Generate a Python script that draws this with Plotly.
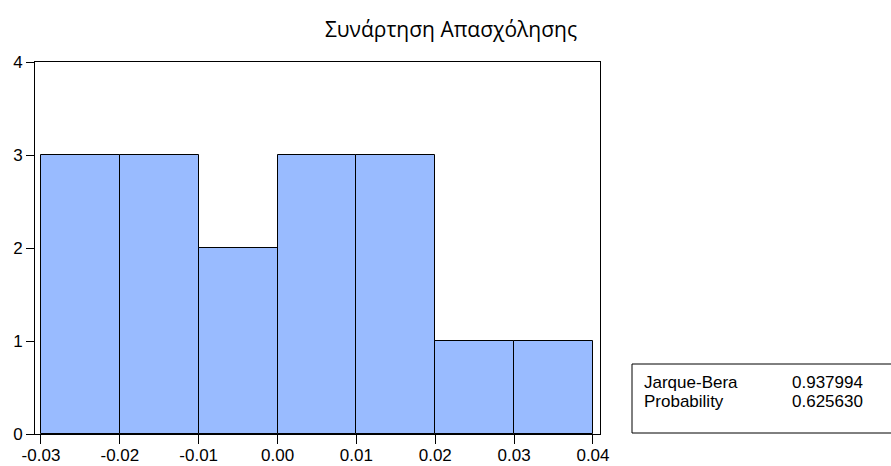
import plotly.graph_objects as go

# Histogram of residuals: bin edges and counts per bin
bin_edges = [-0.03, -0.02, -0.01, 0.00, 0.01, 0.02, 0.03, 0.04]
counts = [3, 3, 2, 3, 3, 1, 1]

x_ticks = [-0.03, -0.02, -0.01, 0.00, 0.01, 0.02, 0.03, 0.04]
x_tick_text = ["-0.03", "-0.02", "-0.01", "0.00", "0.01", "0.02", "0.03", "0.04"]
y_ticks = [0, 1, 2, 3, 4]

title_text = "Συνάρτηση Απασχόλησης"
stat_names = ["Jarque-Bera", "Probability"]
stat_values = ["0.937994", "0.625630"]

centers = [(a + b) / 2 for a, b in zip(bin_edges[:-1], bin_edges[1:])]
widths = [b - a for a, b in zip(bin_edges[:-1], bin_edges[1:])]

fig = go.Figure(
    go.Bar(
        x=centers,
        y=counts,
        width=widths,
        marker=dict(color="#99BBFF", line=dict(color="black", width=1)),
        hoverinfo="skip",
    )
)

W, H = 891, 466
ml, mr, mt, mb = 35, 291, 62, 32
pw = W - ml - mr
ph = H - mt - mb

fig.update_layout(
    width=W,
    height=H,
    margin=dict(l=ml, r=mr, t=mt, b=mb, autoexpand=False),
    paper_bgcolor="white",
    plot_bgcolor="white",
    showlegend=False,
    bargap=0,
    title=dict(
        text=title_text,
        x=451 / W,
        xanchor="center",
        y=1 - 30 / H,
        yanchor="middle",
        font=dict(family="Open Sans", size=21, color="black"),
    ),
    font=dict(family="Liberation Sans, Arial, sans-serif", size=17, color="black"),
)

fig.update_xaxes(
    range=[-0.03076, 0.04089],
    tickvals=x_ticks,
    ticktext=x_tick_text,
    ticks="outside",
    ticklen=9,
    tickcolor="black",
    ticklabelstandoff=-3,
    showline=True,
    linecolor="black",
    linewidth=1,
    mirror=True,
    showgrid=False,
    zeroline=False,
    automargin=False,
)
fig.update_yaxes(
    range=[0, 4],
    tickvals=y_ticks,
    ticks="outside",
    ticklen=8,
    tickcolor="black",
    showline=True,
    linecolor="black",
    linewidth=1,
    mirror=True,
    showgrid=False,
    zeroline=False,
    automargin=False,
)

# Statistics box to the right of the plot
def px_x(px):
    return (px - ml) / pw

def px_y(py):
    return (H - mb - py) / ph

fig.add_shape(
    type="rect",
    xref="paper", yref="paper",
    x0=px_x(632), x1=px_x(892),
    y0=px_y(433), y1=px_y(364),
    line=dict(color="black", width=1),
    fillcolor="white",
)
row_y = [382, 401]
stat_font = dict(family="Liberation Sans, Arial, sans-serif", size=17, color="black")
for name, val, ry in zip(stat_names, stat_values, row_y):
    fig.add_annotation(
        xref="paper", yref="paper",
        x=px_x(643), y=px_y(ry),
        xanchor="left", yanchor="middle",
        text=name, showarrow=False, borderpad=0,
        font=stat_font,
    )
    fig.add_annotation(
        xref="paper", yref="paper",
        x=px_x(791), y=px_y(ry),
        xanchor="left", yanchor="middle",
        text=val, showarrow=False, borderpad=0,
        font=stat_font,
    )

fig.write_html("out.html")
